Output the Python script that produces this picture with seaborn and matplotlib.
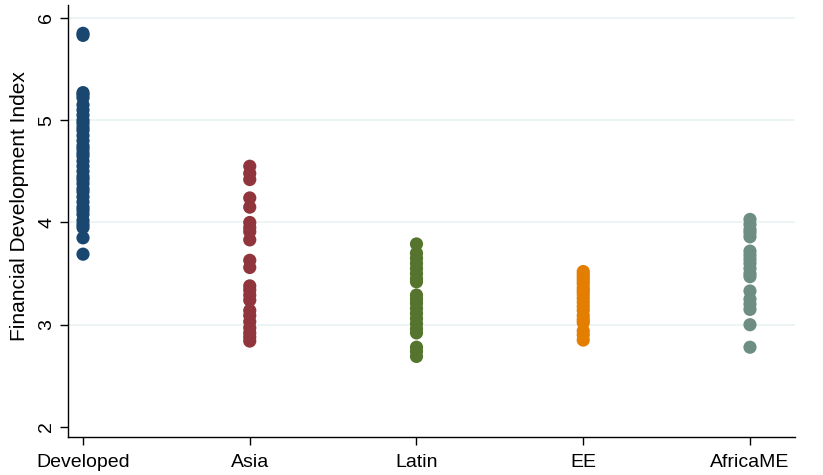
import matplotlib
matplotlib.use("Agg")
import matplotlib.pyplot as plt
import seaborn as sns
import pandas as pd

regions = ["Developed", "Asia", "Latin", "EE", "AfricaME"]
colors = ["#1a476f", "#90353b", "#55752f", "#e37e00", "#6e8e84"]

developed = [5.85, 5.83, 5.27, 5.25, 5.22, 5.15, 5.10, 5.05, 5.00, 4.97, 4.93,
             4.90, 4.85, 4.80, 4.75, 4.72, 4.68, 4.65, 4.60, 4.55, 4.50, 4.45,
             4.42, 4.38, 4.33, 4.30, 4.25, 4.20, 4.15, 4.12, 4.08, 4.02, 3.98,
             3.95, 3.85, 3.69]
asia = [4.55, 4.48, 4.42, 4.24, 4.15, 4.00, 3.95, 3.91, 3.83, 3.63, 3.56,
        3.38, 3.34, 3.29, 3.24, 3.14, 3.09, 3.03, 2.97, 2.92, 2.88, 2.84]
latin = [3.79, 3.70, 3.65, 3.60, 3.55, 3.50, 3.45, 3.42, 3.29, 3.25, 3.21,
         3.16, 3.11, 3.06, 3.01, 2.96, 2.92, 2.78, 2.74, 2.69]
ee = [3.52, 3.49, 3.46, 3.43, 3.40, 3.36, 3.33, 3.30, 3.26, 3.22, 3.18,
      3.14, 3.09, 3.05, 3.02, 2.94, 2.90, 2.85]
africame = [4.03, 3.98, 3.93, 3.90, 3.86, 3.72, 3.68, 3.64, 3.60, 3.55, 3.50,
            3.47, 3.33, 3.25, 3.20, 3.15, 3.00, 2.78]

series = [developed, asia, latin, ee, africame]
df = pd.DataFrame({
    "region": [r for r, vals in zip(regions, series) for _ in vals],
    "fdi": [v for vals in series for v in vals],
})

sns.set_style("white")
plt.rcParams["font.family"] = ["Liberation Sans", "DejaVu Sans"]
plt.rcParams["text.color"] = "black"
plt.rcParams["axes.labelcolor"] = "black"
plt.rcParams["xtick.color"] = "black"
plt.rcParams["ytick.color"] = "black"

fig = plt.figure(figsize=(8.23, 4.75), dpi=100)
ax = fig.add_axes([68 / 823, 1 - 437 / 475, (795 - 68) / 823, (437 - 5) / 475])

for y in [3, 4, 5, 6]:
    ax.axhline(y, color="#eaf2f3", lw=1.2, zorder=0)

sns.stripplot(data=df, x="region", y="fdi", hue="region", order=regions,
              hue_order=regions, palette=colors, jitter=False, size=9.5,
              linewidth=0, legend=False, ax=ax, zorder=3)

ax.set_xlim(-0.09, 4.27)
ax.set_ylim(1.902, 6.127)
ax.set_yticks([2, 3, 4, 5, 6])
ax.set_yticklabels(["2", "3", "4", "5", "6"], rotation=90, va="center")
ax.set_xlabel("")
ax.set_ylabel("Financial Development Index", fontsize=15)
ax.yaxis.set_label_coords(-0.054, 0.535)

for side in ["top", "right"]:
    ax.spines[side].set_visible(False)
for side in ["left", "bottom"]:
    ax.spines[side].set_color("black")
    ax.spines[side].set_linewidth(1.0)

ax.tick_params(axis="both", direction="out", length=6, width=1, color="black",
               labelcolor="black", labelsize=14, left=True, bottom=True)
ax.tick_params(axis="x", pad=6)
ax.tick_params(axis="y", pad=3)

fig.savefig("out.png", dpi=100)
